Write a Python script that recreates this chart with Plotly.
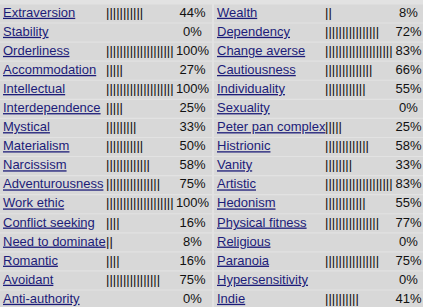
import plotly.graph_objects as go

# ---- data ----
left_traits = ["Extraversion", "Stability", "Orderliness", "Accommodation", "Intellectual",
               "Interdependence", "Mystical", "Materialism", "Narcissism", "Adventurousness",
               "Work ethic", "Conflict seeking", "Need to dominate", "Romantic", "Avoidant",
               "Anti-authority"]
left_pct = [44, 0, 100, 27, 100, 25, 33, 50, 58, 75, 100, 16, 8, 16, 75, 0]
left_pipes = [11, 0, 20, 5, 20, 5, 9, 11, 13, 16, 20, 4, 2, 4, 16, 0]

right_traits = ["Wealth", "Dependency", "Change averse", "Cautiousness", "Individuality",
                "Sexuality", "Peter pan complex", "Histrionic", "Vanity", "Artistic",
                "Hedonism", "Physical fitness", "Religious", "Paranoia", "Hypersensitivity",
                "Indie"]
right_pct = [8, 72, 83, 66, 55, 0, 25, 58, 33, 83, 55, 77, 0, 75, 0, 41]
right_pipes = [2, 16, 20, 14, 12, 0, 5, 13, 8, 20, 12, 16, 0, 16, 0, 10]

# ---- layout constants ----
W, H = 423, 307
LINK = "#1c1c78"
FONT = "Liberation Sans, Arial, sans-serif"
FS = 13
rows = list(range(len(left_traits)))

cols = [
    # label x, bar x, pct centre x
    dict(traits=left_traits, pct=left_pct, pipes=left_pipes, lx=3, bx=106, px=192.5),
    dict(traits=right_traits, pct=right_pct, pipes=right_pipes, lx=217, bx=325, px=408.5),
]

fig = go.Figure()
for c in cols:
    fig.add_trace(go.Scatter(
        x=[c["lx"]] * len(rows), y=rows, mode="text",
        text=[f"<u>{t}</u>" for t in c["traits"]], textposition="middle right",
        textfont=dict(family=FONT, size=FS, color=LINK), hoverinfo="skip"))
    fig.add_trace(go.Scatter(
        x=[c["bx"]] * len(rows), y=rows, mode="text",
        text=["|" * n for n in c["pipes"]], textposition="middle right",
        textfont=dict(family=FONT, size=FS, color="#111111"), hoverinfo="skip"))
    fig.add_trace(go.Scatter(
        x=[c["px"]] * len(rows), y=rows, mode="text",
        text=[f"{p}%" for p in c["pct"]], textposition="middle center",
        textfont=dict(family=FONT, size=FS, color="#111111"), hoverinfo="skip"))

# cell backgrounds
shapes = []
for i in rows:
    for (x0, x1) in [(0, 212), (214, 423)]:
        shapes.append(dict(type="rect", xref="x", yref="y", layer="below",
                           x0=x0, x1=x1, y0=i - 0.5 + 0.03, y1=i + 0.5 - 0.03,
                           fillcolor="#d8d8d8", line=dict(width=0)))

step = 19.07
top = -13.5 / step
bottom = top + H / step
fig.update_layout(
    width=W, height=H, margin=dict(l=0, r=0, t=0, b=0),
    paper_bgcolor="#e2e2e2", plot_bgcolor="#e2e2e2",
    showlegend=False, shapes=shapes,
    xaxis=dict(range=[0, W], visible=False, fixedrange=True),
    yaxis=dict(range=[bottom, top], visible=False, fixedrange=True),
)
fig.write_html("out.html")
